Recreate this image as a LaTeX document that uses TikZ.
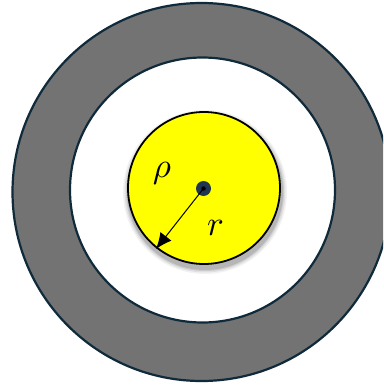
\documentclass[tikz,border=0pt]{standalone}
\usetikzlibrary{arrows.meta}
\definecolor{ringline}{HTML}{0F2A3A}
\definecolor{ringgray}{HTML}{737373}
\definecolor{sunyellow}{HTML}{FFFF00}
\definecolor{dotnavy}{HTML}{1F3550}
\begin{document}
\begin{tikzpicture}[x=1pt,y=-1pt,
  ring/.style={circle,draw=ringline,line width=2.2pt,inner sep=0pt},
  label/.style={inner sep=0pt,scale=3.5}]
\useasboundingbox (0,0) rectangle (383,385);
\clip (0,0) rectangle (383,385);
\fill[white] (0,0) rectangle (383,385);
\node[ring,fill=ringgray,minimum size=378pt] (outer) at (201.5,192) {};
\node[ring,fill=white,minimum size=265pt] (inner) at (202.5,190) {};
% soft shadow
\foreach \r/\o in {82/0.05,80.5/0.07,79/0.09,78/0.1}{
  \fill[black,opacity=\o] (205,192) circle (\r);
}
\node[circle,draw=black,line width=1.8pt,fill=sunyellow,inner sep=0pt,minimum size=152pt] (core) at (204,188) {};
\node[circle,fill=dotnavy,inner sep=0pt,minimum size=15pt] (dot) at (203.5,188.5) {};
\node[circle,fill=black,inner sep=0pt,minimum size=4.5pt] (pin) at (dot.center) {};
\coordinate (tip) at (156,249);
\draw[line width=1pt,-{Latex[length=16pt,width=14pt]}] (dot.center) -- (tip);
\node[label] (rho) at (162,173) {$\rho$};
\node[label] (rr) at (215.5,228.3) {$r$};
\end{tikzpicture}
\end{document}
